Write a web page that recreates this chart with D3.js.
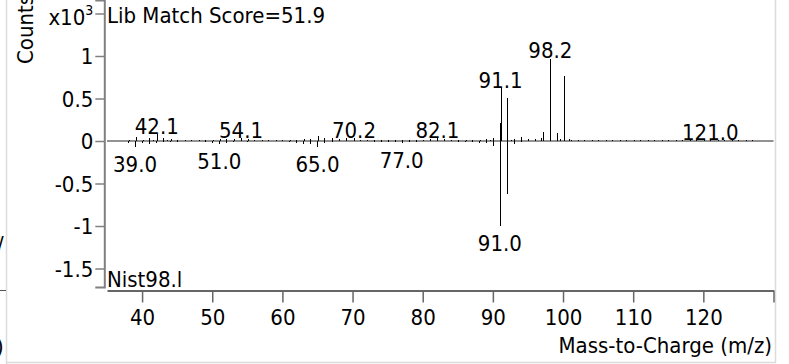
<!DOCTYPE html>
<html><head><meta charset="utf-8">
<script src="https://cdn.jsdelivr.net/npm/d3@7"></script>
<style>
html,body{margin:0;padding:0;background:#fff;}
svg{display:block;font-family:"DejaVu Sans Condensed","DejaVu Sans",sans-serif;font-stretch:condensed;}
</style></head><body>
<svg id="chart" width="789" height="364"></svg>
<script>
// ---- data (intensities in thousands of counts) ----
const sampleMz  = [38.1,39.1,40.1,41.0,41.6,42.1,43.0,43.6,44.1,45.0,46.1,47.0,48.1,49.0,50.1,51.1,52.0,53.1,54.1,55.1,56.0,57.1,58.0,59.1,60.0,61.1,62.0,63.1,64.0,65.1,66.0,67.1,68.1,69.1,70.2,71.1,72.0,73.1,74.0,75.1,76.0,77.1,78.0,79.1,80.0,81.1,82.1,83.0,84.1,85.0,86.1,87.0,88.1,89.0,89.6,90.0,91.0,91.1,92.0,92.6,93.0,94.0,95.0,96.0,96.9,97.1,98.1,98.2,99.1,99.6,100.1,100.2,100.8,101.2,102.1,103.0,104.1,105.0,106.1,107.0,108.1,109.0,110.1,111.0,112.1,113.0,114.1,115.0,116.1,117.0,118.1,119.0,120.1,121.0,122.1,123.0,124.1,125.0,126.1,127.0,128.1,129.0];
const sampleInt = [0.015,0.045,0.015,0.03,0.01,0.082,0.035,0.01,0.02,0.012,0.008,0.006,0.006,0.008,0.015,0.02,0.018,0.025,0.03,0.02,0.012,0.01,0.008,0.006,0.006,0.008,0.012,0.02,0.02,0.06,0.03,0.03,0.02,0.035,0.03,0.012,0.008,0.008,0.01,0.012,0.01,0.015,0.012,0.012,0.015,0.018,0.03,0.02,0.012,0.01,0.01,0.012,0.015,0.02,0.01,0.04,0.21,0.62,0.51,0.015,0.025,0.045,0.018,0.02,0.03,0.11,0.42,0.97,0.098,0.02,0.15,0.765,0.02,0.01,0.008,0.006,0.006,0.008,0.006,0.008,0.006,0.006,0.008,0.006,0.006,0.008,0.006,0.008,0.006,0.008,0.008,0.008,0.008,0.01,0.008,0.006,0.006,0.006,0.006,0.006,0.005,0.005];
const libMz  = [38,39,40,41,42,43,44,45,49,50,51,52,53,55,61,62,63,64,65,66,67,73,74,75,76,77,78,79,85,86,87,88,89,90,91,92,93,94];
const libInt = [0.02,0.067,0.02,0.03,0.02,0.012,0.008,0.01,0.008,0.02,0.035,0.02,0.015,0.01,0.01,0.02,0.035,0.03,0.075,0.02,0.01,0.01,0.012,0.012,0.01,0.025,0.012,0.01,0.008,0.012,0.015,0.02,0.027,0.06,1.0,0.627,0.035,0.008];
const sampleLabels = [42.1,54.1,70.2,82.1,91.1,98.2,121.0];
const libLabels    = [39.0,51.0,65.0,77.0,91.0];
const xTicks      = [40,50,60,70,80,90,100,110,120,130];
const xTickLabels = ["40","50","60","70","80","90","100","110","120",""];
const yTicks      = [-1.5,-1,-0.5,0,0.5,1,1.5];
const yTickLabels = ["-1.5","-1","-0.5","0","0.5","1","x10"];
const yExponent   = "3";
const matchTitle  = "Lib Match Score=51.9";
const libName     = "Nist98.l";
const xTitle      = "Mass-to-Charge (m/z)";
const yTitle      = "Counts";

// ---- layout ----
const svg = d3.select("#chart");
const FS = 22;
const x = d3.scaleLinear().domain([35,130]).range([107,773.5]);
const y = d3.scaleLinear().domain([-1.7176,1.6588]).range([287,0]);

// frame remnants
svg.append("line").attr("x1",6.5).attr("x2",6.5).attr("y1",0).attr("y2",364).attr("stroke","#dcdcdc").attr("stroke-width",1.5);
svg.append("line").attr("x1",775.5).attr("x2",775.5).attr("y1",0).attr("y2",363).attr("stroke","#dcdcdc").attr("stroke-width",1.5);
svg.append("line").attr("x1",6).attr("x2",776).attr("y1",362.5).attr("y2",362.5).attr("stroke","#dcdcdc").attr("stroke-width",1.5);
svg.append("line").attr("x1",0).attr("x2",6).attr("y1",290.5).attr("y2",290.5).attr("stroke","#555");
const clip = svg.append("clipPath").attr("id","leftclip");
clip.append("rect").attr("x",0).attr("y",0).attr("width",6).attr("height",364);
const lg = svg.append("g").attr("clip-path","url(#leftclip)").attr("font-size",FS);
lg.append("text").attr("x",-3).attr("y",252).text("/");
lg.append("text").attr("x",-4).attr("y",354).text(")");

// zero line
svg.append("line").attr("x1",x(35)).attr("x2",x(130)).attr("y1",y(0)).attr("y2",y(0))
  .attr("stroke","#6e6e6e").attr("stroke-width",1.6);

// peaks
const peaks = svg.append("g").attr("stroke","#000").attr("stroke-width",1).attr("shape-rendering","crispEdges");
peaks.selectAll("line.s").data(sampleMz.map((m,i)=>({m,v:sampleInt[i]}))).join("line")
  .attr("class","s").attr("x1",d=>Math.round(x(d.m))+0.5).attr("x2",d=>Math.round(x(d.m))+0.5)
  .attr("y1",y(0)).attr("y2",d=>y(d.v));
peaks.selectAll("line.l").data(libMz.map((m,i)=>({m,v:libInt[i]}))).join("line")
  .attr("class","l").attr("x1",d=>Math.round(x(d.m))+0.5).attr("x2",d=>Math.round(x(d.m))+0.5)
  .attr("y1",y(0)).attr("y2",d=>y(-d.v));

// peak labels
const lab = svg.append("g").attr("font-size",FS).attr("text-anchor","middle").attr("fill","#000");
sampleLabels.forEach(m=>{
  const i = sampleMz.findIndex(v=>Math.abs(v-m)<1e-6);
  lab.append("text").attr("x",x(m)).attr("y",y(sampleInt[i])-0.5).text(m.toFixed(1));
});
libLabels.forEach(m=>{
  const i = libMz.findIndex(v=>Math.abs(v-m)<1e-6);
  lab.append("text").attr("x",x(m)).attr("y",y(-libInt[i])+25).text(m.toFixed(1));
});

// y axis
const ya = svg.append("g").attr("transform","translate(104.3,0)")
  .call(d3.axisLeft(y).tickValues(yTicks).tickSize(9).tickPadding(2).tickFormat((d,i)=>yTickLabels[i]));
ya.attr("font-family",null).attr("font-size",FS);
ya.select(".domain").attr("stroke","#808080").attr("stroke-width",2);
ya.selectAll(".tick line").attr("stroke","#808080").attr("stroke-width",1.5);
ya.selectAll(".tick text").attr("fill","#000").attr("dy","0.36em");
ya.selectAll(".tick text").filter((d,i)=>i===yTicks.length-1).each(function(){
  const t = d3.select(this);
  t.attr("x",-11).attr("dy","0.52em");
  t.append("tspan").attr("font-size",14).attr("dy",-10).text(yExponent);
});

// x axis
const xa = svg.append("g").attr("transform","translate(0,290.5)")
  .call(d3.axisBottom(x).tickValues(xTicks).tickSize(12).tickSizeOuter(0).tickPadding(6).tickFormat((d,i)=>xTickLabels[i]));
xa.attr("font-family",null).attr("font-size",FS);
xa.select(".domain").attr("stroke","#333").attr("stroke-width",1.4);
xa.selectAll(".tick line").attr("stroke","#666").attr("stroke-width",1.5);
xa.selectAll(".tick text").attr("fill","#000").attr("dy","0.76em");

// titles
svg.append("text").attr("x",107).attr("y",23).attr("font-size",FS).text(matchTitle);
svg.append("text").attr("x",107).attr("y",287).attr("font-size",FS).text(libName);
svg.append("text").attr("x",772).attr("y",353).attr("font-size",FS).attr("text-anchor","end").text(xTitle);
svg.append("text").attr("transform","translate(33,64) rotate(-90)").attr("font-size",FS).text(yTitle);
</script>
</body></html>
